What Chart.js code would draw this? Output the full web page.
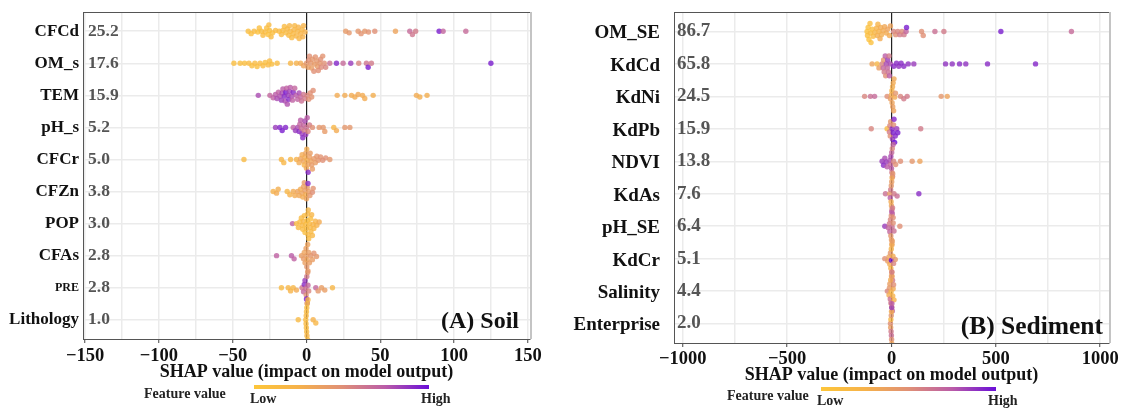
<!DOCTYPE html>
<html>
<head>
<meta charset="utf-8">
<script src="https://cdn.jsdelivr.net/npm/chart.js@4.4.1/dist/chart.umd.min.js"></script>
<style>
  html, body { margin: 0; padding: 0; background: #fff; }
  #wrap { position: relative; width: 1126px; height: 410px; }
  canvas { position: absolute; top: 0; }
</style>
</head>
<body>
<div id="wrap">
  <canvas id="soilChart" width="560" height="410" style="left:0"></canvas>
  <canvas id="sedChart" width="563" height="410" style="left:563px"></canvas>
</div>
<script>
var SERIF = '"Liberation Serif", "Times New Roman", serif';

// ---- Soil: feature names, mean |SHAP|, and [shap, feature value 0..1] per sample
var soilFeatures = ['CFCd', 'OM_s', 'TEM', 'pH_s', 'CFCr', 'CFZn', 'POP', 'CFAs', 'PRE', 'Lithology'];
var soilMeans = [25.2, 17.6, 15.9, 5.2, 5.0, 3.8, 3.0, 2.8, 2.8, 1.0];

var soilCFCd = [[-39.5,.1],[-37.5,.1],[-35.5,.12],[-33,.08],[-32,.1],[-30.5,.1],[-29.5,.12],[-28,.12],[-27,.1],[-26,.08],
  [-25.5,.12],[-25,.1],[-24,.12],[-23,.1],[-21,.12],[-18.5,.15],[-17,.15],[-16,.12],[-15,.15],[-14,.14],[-13,.16],[-12,.15],
  [-11.5,.2],[-11,.18],[-10,.15],[-9,.16],[-8.5,.2],[-8,.18],[-7,.2],[-6,.18],[-5.5,.22],[-5,.2],[-4,.22],[-3,.2],[-2.5,.25],
  [-2,.24],[-1,.25],[26.6,.42],[28.9,.45],[35,.45],[37,.48],[39.5,.45],[42,.48],[46.3,.5],[60.3,.35],[70,.68],[71.8,.62],
  [74,.6],[89.9,.95],[92.6,.7],[108,.68]];
var soilOM_s = [[-49.2,.1],[-45,.1],[-42,.1],[-39,.12],[-37,.1],[-35,.12],[-33.5,.1],[-31.5,.12],[-29.5,.12],[-28,.1],
  [-26,.15],[-25,.12],[-23.5,.1],[-19.9,.12],[-10.8,.2],[-6.8,.25],[-4,.3],[-2,.35],[0,.45],[1,.4],[1.5,.5],[2,.5],[3,.45],
  [3.5,.4],[4,.45],[5,.5],[5.5,.42],[6,.48],[7,.45],[7.5,.42],[8,.5],[9,.45],[9.5,.5],[10,.52],[11,.48],[12,.5],[13,.55],
  [15.8,.65],[20.3,.92],[24.8,.68],[30,.85],[35.4,.55],[40.6,.62],[41.8,.95],[44,.6],[125,.95]];
var soilTEM = [[-32.7,.8],[-24.8,.7],[-22.6,.72],[-21,.75],[-20,.8],[-19,.72],[-18,.78],[-17,.85],[-16.5,.8],[-16,.75],
  [-15,.9],[-14.5,.8],[-14,.95],[-13.5,.72],[-13,.78],[-12.5,.85],[-12,.9],[-11.5,.82],[-11,.75],[-10,.8],[-9.5,.72],[-9,.9],
  [-8,.7],[-7,.75],[-6,.72],[-5,.8],[-4,.7],[-3.4,.65],[-2,.62],[-1,.6],[0.5,.55],[1.5,.5],[2.5,.5],[3.5,.48],[4.5,.5],
  [20.8,.3],[26,.3],[30.5,.3],[32.8,.3],[35,.32],[38,.3],[39.5,.3],[45.2,.28],[74.5,.3],[76.8,.28],[81.7,.28]];
var soilPH_s = [[-21,.85],[-18,.92],[-16.5,.95],[-14.2,.92],[-9,.72],[-7.5,.85],[-6,.8],[-5,.9],[-4.5,.7],[-4,.75],
  [-3.5,.65],[-3,.85],[-2.5,.9],[-2,.7],[-1.5,.6],[-1,.8],[-0.5,.85],[0,.65],[0.5,.75],[1,.55],[2,.6],[4,.5],[8.6,.45],
  [11.3,.45],[12.4,.42],[18.5,.2],[20.3,.3],[26,.45],[29.4,.45]];
var soilCFCr = [[-42.4,.15],[-17,.2],[-15.4,.2],[-10.8,.2],[-6.8,.25],[-5,.3],[-4,.35],[-3,.3],[-2,.35],[-1.5,.25],[-1,.3],
  [-0.5,.35],[0,.32],[0.2,.3],[0.5,.28],[1,.35],[1.1,.9],[2,.38],[2.5,.4],[3,.35],[3.5,.42],[4,.4],[5,.42],[6,.4],[7,.45],
  [8,.45],[9.5,.48],[11,.5],[13,.5],[15.8,.45]];
var soilCFZn = [[-22.6,.25],[-20.3,.3],[-19.2,.28],[-13.1,.2],[-11.3,.25],[-9,.3],[-7.9,.3],[-6,.35],[-5,.32],[-4,.3],
  [-3,.35],[-2.5,.3],[-2,.38],[-1.5,.42],[-1,.4],[-0.5,.3],[0,.35],[0.5,.42],[1,.9],[1.5,.4],[2.3,.45],[4,.5],[4.5,.48]];
var soilPOP = [[-9.5,.72],[-6.8,.15],[-5.5,.15],[-4.5,.12],[-3.5,.15],[-3,.18],[-2.5,.12],[-2,.2],[-1.5,.15],[-1,.1],
  [-0.5,.12],[0,.15],[0.5,.1],[0.8,.18],[1,.15],[1.2,.2],[1.5,.12],[2,.15],[2.5,.18],[2.8,.1],[3,.15],[3.5,.2],[4,.18],
  [4.5,.22],[5,.2],[6,.22],[7,.25],[8.6,.3]];
var soilCFAs = [[-20.3,.72],[-10.2,.75],[-8.4,.72],[-3.4,.4],[-2,.42],[-1.5,.35],[-1,.38],[-0.3,.38],[0,.4],[0.2,.45],
  [0.5,.35],[0.8,.35],[1,.42],[1.5,.4],[2,.4],[3,.45],[4,.4],[5,.48],[6.8,.45]];
var soilPRE = [[-17,.15],[-12.4,.2],[-10.8,.22],[-9,.2],[-6.8,.3],[-3,.6],[-2,.7],[-1.5,.9],[-1,.85],[-0.5,.65],[-0.2,.5],
  [0,.95],[0.2,.6],[0.5,.8],[0.8,.45],[1,.7],[1.5,.55],[6.3,.7],[7.9,.45],[10.2,.4],[12.4,.4],[17.6,.2]];
var soilLithology = [[-5.6,.15],[-0.5,.12],[-0.3,.15],[-0.2,.18],[-0.1,.12],[0,.15],[0.1,.15],[0.2,.12],[0.3,.2],[0.5,.15],
  [0.8,.12],[1,.18],[1.2,.15],[4.5,.25],[6.3,.2]];

// ---- Sediment
var sedFeatures = ['OM_SE', 'KdCd', 'KdNi', 'KdPb', 'NDVI', 'KdAs', 'pH_SE', 'KdCr', 'Salinity', 'Enterprise'];
var sedMeans = [86.7, 65.8, 24.5, 15.9, 13.8, 7.6, 6.4, 5.1, 4.4, 2.0];

var sedOM_SE = [[-117,.05],[-115,.1],[-112,.08],[-108,.05],[-103,.1],[-100,.12],[-98,.08],[-93,.1],[-88,.15],[-80,.2],
  [-72,.25],[-68,.28],[-65,.22],[-60,.25],[-55,.3],[-52,.3],[-48,.28],[-40,.3],[-33,.32],[-25,.3],[-18,.35],[-10,.3],[-5,.35],
  [10,.55],[20,.5],[30,.55],[40,.6],[50,.52],[60,.6],[70,.7],[72,.95],[144,.5],[152,.5],[208,.65],[251,.6],[524,.95],[862,.68]];
var sedKdCd = [[-93,.35],[-69,.2],[-60,.4],[-45,.55],[-40,.7],[-38,.45],[-35,.6],[-30,.75],[-28,.5],[-25,.8],[-20,.7],
  [-18,.85],[-15,.65],[-12,.6],[-10,.75],[-5,.8],[11,.9],[24,.9],[35,.88],[46,.9],[59,.9],[80,.88],[107,.85],[259,.88],
  [291,.88],[326,.9],[356,.88],[460,.9],[690,.92]];
var sedKdNi = [[-129,.55],[-101,.65],[-81,.68],[-21,.5],[-5,.4],[0,.3],[2,.25],[3,.35],[5,.28],[6,.38],[8,.3],[10,.35],
  [12,.32],[15,.3],[19,.45],[43,.55],[59,.6],[75,.6],[238,.45],[267,.35]];
var sedKdPb = [[-97,.55],[-21,.15],[-10,.6],[-8,.55],[-6,.5],[-4,.45],[3,.9],[5,.85],[8,.95],[10,.5],[12,.92],[15,1],
  [18,.9],[25,.85],[30,.95],[140,.6]];
var sedNDVI = [[-45,.85],[-38,.9],[-32,.8],[-25,.85],[-21,.75],[-8,.8],[-5,.7],[-3,.8],[0,.75],[1,.7],[2,.6],[4,.55],
  [5,.65],[8,.7],[10,.55],[20,.5],[43,.5],[99,.45],[136,.35]];
var sedKdAs = [[-29,.65],[-8,.4],[-6,.75],[-4,.6],[-2,.3],[-1,.45],[0,.35],[1,.4],[2,.55],[3,.3],[4,.7],[6,.45],[8,.5],
  [12,.6],[27,.65],[131,.9]];
var sedPH_SE = [[-32,.85],[-15,.7],[-10,.6],[-8,.7],[-5,.55],[-3,.45],[-1,.5],[0,.4],[1,.75],[2,.4],[3,.65],[5,.6],[8,.5],
  [12,.65],[40,.5]];
var sedKdCr = [[-32,.5],[-18,.4],[-12,.35],[-8,.3],[-5,.45],[-3,.25],[-1,.25],[0,1],[1,.3],[2,.3],[3,.35],[4,.4],[5,.6],
  [7,.3],[10,.55],[18,.45]];
var sedSalinity = [[-20,.55],[-12,.3],[-10,.45],[-8,.4],[-6,.65],[-4,.3],[-3,.6],[-2,.2],[0,.4],[1,.35],[2,.6],[4,.7],
  [6,.25],[8,.3],[10,.5],[12,.25]];
var sedEnterprise = [[-5,.5],[-4,.4],[-3,.2],[-2,.6],[-1,.45],[-0.5,.65],[0,.3],[0.5,.5],[1,.85],[1.5,.35],[2,.75],
  [2.5,.3],[3,.6],[4,.3],[5,.4],[6,.5],[8,.35]];

var soilRows = [soilCFCd, soilOM_s, soilTEM, soilPH_s, soilCFCr, soilCFZn, soilPOP, soilCFAs, soilPRE, soilLithology];
var sedRows = [sedOM_SE, sedKdCd, sedKdNi, sedKdPb, sedNDVI, sedKdAs, sedPH_SE, sedKdCr, sedSalinity, sedEnterprise];

// low -> high feature value colours
var colorStops = [
  [0, [253, 198, 58]],
  [0.25, [246, 178, 74]],
  [0.5, [224, 144, 118]],
  [0.75, [186, 92, 168]],
  [1, [106, 14, 216]]
];

function featColor(t, alpha) {
  for (var i = 1; i < colorStops.length; i++) {
    if (t <= colorStops[i][0]) {
      var a = colorStops[i - 1], b = colorStops[i];
      var f = (t - a[0]) / (b[0] - a[0]);
      var c = a[1].map(function(v, k) { return Math.round(v + (b[1][k] - v) * f); });
      return 'rgba(' + c[0] + ',' + c[1] + ',' + c[2] + ',' + alpha + ')';
    }
  }
  var l = colorStops[colorStops.length - 1][1];
  return 'rgba(' + l[0] + ',' + l[1] + ',' + l[2] + ',' + alpha + ')';
}

// beeswarm: nudge overlapping dots up/down the row (works in pixel units)
function swarm(rows, pxPerUnit, rowPx) {
  var out = [];
  rows.forEach(function(pts, r) {
    var placed = [];
    pts.forEach(function(p) {
      var px = p[0] * pxPerUnit, dy = 0;
      for (var i = 0; i < 60; i++) {
        dy = (i % 2 ? 1 : -1) * Math.ceil(i / 2) * 0.8;
        var hit = placed.some(function(q) {
          var dx = q[0] - px, ddy = q[1] - dy;
          return dx * dx + ddy * ddy < 14;
        });
        if (!hit) break;
      }
      placed.push([px, dy]);
      out.push({ x: p[0], y: r + 1 + dy / rowPx, fv: p[1] });
    });
  });
  return out;
}

function minusFmt(v) {
  return v < 0 ? '\u2212' + Math.abs(v) : String(v);
}

function tickVal(ctx) {
  return ctx && ctx.tick ? ctx.tick.value : null;
}

var panelDecor = {
  id: 'panelDecor',
  afterDraw: function(chart, args, o) {
    var c = chart.ctx, a = chart.chartArea, ys = chart.scales.y;
    c.save();
    // top and right frame
    c.strokeStyle = '#555';
    c.lineWidth = 1;
    c.beginPath(); c.moveTo(a.left, a.top + 0.5); c.lineTo(a.right, a.top + 0.5); c.stroke();
    c.strokeStyle = '#c4c4c4';
    c.lineWidth = 2;
    c.beginPath(); c.moveTo(a.right + 1, a.top); c.lineTo(a.right + 1, a.bottom); c.stroke();

    // mean |SHAP| values
    c.fillStyle = '#555';
    c.font = 'bold ' + o.valueSize + 'px ' + SERIF;
    c.textAlign = 'left';
    c.textBaseline = 'middle';
    o.means.forEach(function(m, i) {
      c.fillText(m.toFixed(1), a.left + o.valueX, ys.getPixelForValue(i + 1));
    });

    // panel tag
    c.fillStyle = '#111';
    c.font = 'bold ' + o.tagSize + 'px ' + SERIF;
    c.textAlign = 'right';
    c.fillText(o.tag, a.right - o.tagX, a.bottom - o.tagY);

    // x title
    c.font = 'bold 18px ' + SERIF;
    c.textAlign = 'center';
    c.fillText('SHAP value (impact on model output)', (a.left + a.right) / 2, o.titleY);

    // colour bar
    var g = c.createLinearGradient(o.barX0, 0, o.barX1, 0);
    colorStops.forEach(function(s) { g.addColorStop(s[0], featColor(s[0], 1)); });
    c.fillStyle = g;
    c.fillRect(o.barX0, o.barY - 2, o.barX1 - o.barX0, 4);
    c.fillStyle = '#222';
    c.font = 'bold 14px ' + SERIF;
    c.textAlign = 'left';
    c.fillText('Feature value', o.fvX, o.fvY);
    c.fillText('Low', o.barX0 - 4, o.barY + 12);
    c.fillText('High', o.barX1 - 8, o.barY + 12);
    c.restore();
  }
};

function makeChart(id, opt) {
  var pts = swarm(opt.rows, opt.pxPerUnit, opt.rowPx);
  return new Chart(document.getElementById(id), {
    type: 'scatter',
    data: {
      datasets: [{
        data: pts,
        pointRadius: 2.7,
        pointBorderWidth: 0,
        pointBackgroundColor: pts.map(function(p) { return featColor(p.fv, 0.8); })
      }]
    },
    plugins: [panelDecor],
    options: {
      responsive: false,
      animation: false,
      devicePixelRatio: 1,
      layout: { padding: { top: 12, right: opt.padRight, left: 0, bottom: 0 } },
      plugins: {
        legend: { display: false },
        tooltip: { enabled: false },
        panelDecor: opt.decor
      },
      scales: {
        x: {
          min: -opt.xLim, max: opt.xLim,
          afterFit: function(s) {
            s.height = opt.xAxisH;
            s.paddingLeft = 0;
            s.paddingRight = 0;
          },
          border: { color: '#555', width: 1 },
          grid: {
            color: function(ctx) { return tickVal(ctx) === 0 ? '#222' : '#ebebeb'; },
            lineWidth: function(ctx) { return tickVal(ctx) === 0 ? 1.2 : 1.5; },
            tickColor: function(ctx) {
              var v = tickVal(ctx);
              return v !== null && v % opt.major === 0 ? '#444' : 'rgba(0,0,0,0)';
            },
            tickLength: 4,
            tickWidth: 1
          },
          ticks: {
            stepSize: opt.major / 2,
            includeBounds: false,
            autoSkip: false,
            maxRotation: 0,
            padding: opt.tickPad,
            color: '#111',
            font: { family: SERIF, size: 18.5, weight: 'bold' },
            callback: function(v) { return v % opt.major === 0 ? minusFmt(v) : ''; }
          }
        },
        y: {
          min: 0.4, max: 10.6,
          reverse: true,
          afterFit: function(s) {
            s.width = opt.yAxisW;
            s.paddingTop = 0;
            s.paddingBottom = 0;
          },
          border: { color: '#555', width: 1 },
          grid: { color: '#ebebeb', lineWidth: 1.5, drawTicks: false },
          ticks: {
            stepSize: 1,
            includeBounds: false,
            padding: opt.namePad,
            labelOffset: opt.nameShift,
            color: '#111',
            font: function(ctx) {
              var v = tickVal(ctx);
              var small = v !== null && opt.features[v - 1] === 'PRE';
              return { family: SERIF, weight: 'bold', size: small ? 12 : opt.nameSize };
            },
            callback: function(v) { return opt.features[v - 1]; }
          }
        }
      }
    }
  });
}

makeChart('soilChart', {
  rows: soilRows, features: soilFeatures,
  pxPerUnit: 1.476, rowPx: 32.1,
  xLim: 151.5, major: 50,
  padRight: 30, yAxisW: 83, xAxisH: 71, tickPad: 2,
  namePad: 4, nameSize: 17, nameShift: 0,
  decor: {
    means: soilMeans, valueX: 5, valueSize: 17.5,
    tag: '(A) Soil', tagSize: 24, tagX: 11, tagY: 17,
    titleY: 372,
    barX0: 254, barX1: 429, barY: 387, fvX: 144, fvY: 394
  }
});

makeChart('sedChart', {
  rows: sedRows, features: sedFeatures,
  pxPerUnit: 0.2087, rowPx: 32.6,
  xLim: 1042, major: 500,
  padRight: 17, yAxisW: 111, xAxisH: 67, tickPad: 1,
  namePad: 14, nameSize: 19, nameShift: 2,
  decor: {
    means: sedMeans, valueX: 3, valueSize: 19,
    tag: '(B) Sediment', tagSize: 25.5, tagX: 6, tagY: 16,
    titleY: 375,
    barX0: 258, barX1: 433, barY: 389, fvX: 164, fvY: 396
  }
});
</script>
</body>
</html>
